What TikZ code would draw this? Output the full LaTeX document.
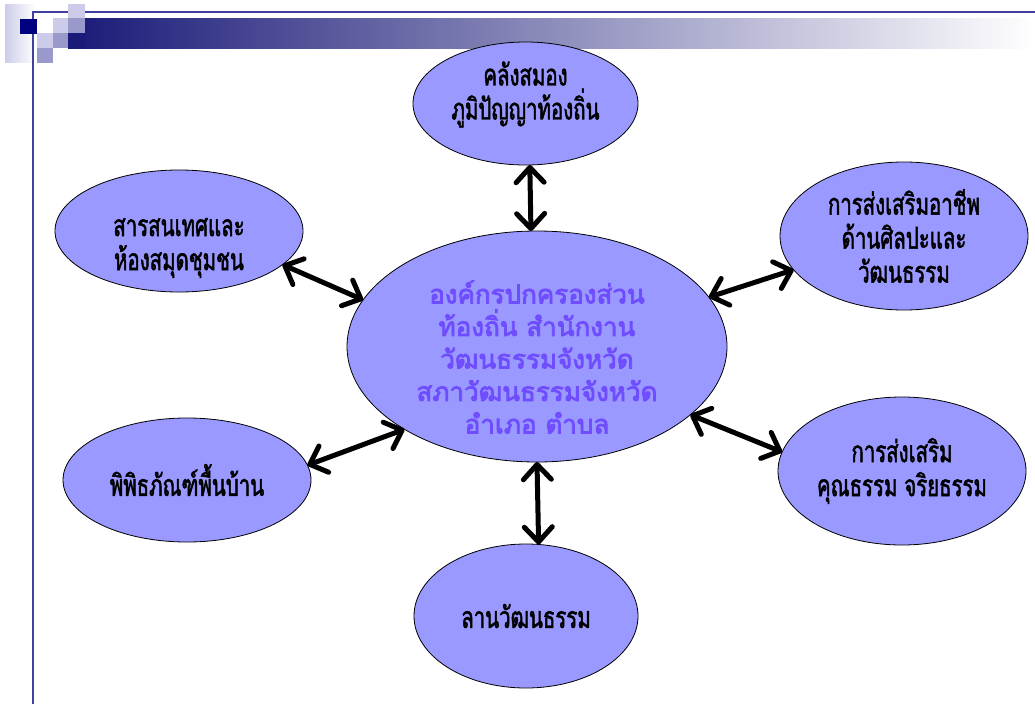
\documentclass[tikz,border=0pt]{standalone}
\usepackage{fontspec}
\usepackage{xcolor}
\usepackage{tikz}
\usetikzlibrary{positioning,shapes,arrows.meta}
\newfontfamily\thaifont[Script=Thai,FakeBold=3]{Loma}
\newfontfamily\thaicond[Script=Thai,FakeStretch=0.68,FakeBold=1.6]{Loma}
\definecolor{bubblefill}{RGB}{153,153,255}
\definecolor{hubtext}{RGB}{112,76,255}
\definecolor{framenavy}{RGB}{64,64,160}
\definecolor{deepnavy}{RGB}{0,0,128}
\definecolor{barnavy}{RGB}{26,26,120}
\definecolor{barmid}{RGB}{165,165,195}
\definecolor{lightsq}{RGB}{204,204,234}
\definecolor{midsq}{RGB}{153,153,204}
\tikzstyle{bubble}=[ellipse, draw=black, line width=0.8pt, fill=bubblefill, inner xsep=0pt, inner ysep=-20pt, outer sep=0pt, align=center, text=black, font=\thaicond\fontsize{30}{34}\selectfont]
\tikzstyle{hubbubble}=[bubble, text=hubtext, font=\thaifont\fontsize{26}{32.5}\selectfont]
\tikzstyle{dblarrow}=[{Straight Barb[length=15pt,width=28pt,round]}-{Straight Barb[length=15pt,width=28pt,round]}, line width=5pt, line cap=round]

\begin{document}
\begin{tikzpicture}[x=1pt, y=-1pt]
        \useasboundingbox (0,0) rectangle (1035,704);
        % slide decoration
        \shade[left color=lightsq, right color=white] (5,4) rectangle (35,62);
        \shade[left color=barnavy, middle color=barmid, right color=white] (68,18) rectangle (1035,48);
        \draw[framenavy, line width=1.5pt] (33,704) -- (33,12) -- (1035,12);
        \fill[deepnavy] (20,19) rectangle (37,34);
        \fill[lightsq] (37,33) rectangle (53,48);
        \fill[midsq] (37,48) rectangle (53,63);
        \fill[lightsq] (53,18) rectangle (68,33);
        \fill[midsq] (53,33) rectangle (68,48);
        \fill[lightsq] (68,4) rectangle (85,18);
        \fill[midsq] (68,18) rectangle (85,33);
        \fill[barnavy] (68,33) rectangle (85,48);

        \node[hubbubble, minimum width=380, minimum height=231] (hub) at (537,346.5) {\rule{0pt}{44pt}องค์กรปกครองส่วน\\ท้องถิ่น สำนักงาน\\วัฒนธรรมจังหวัด\\สภาวัฒนธรรมจังหวัด\\อำเภอ ตำบล};
        \node[bubble, minimum width=225, minimum height=123] (wisdom) at (525.5,103.5) {คลังสมอง\\ภูมิปัญญาท้องถิ่น\rule[-26pt]{0pt}{0pt}};
        \node[bubble, minimum width=248, minimum height=122] (library) at (179,231) {\rule{0pt}{52pt}สารสนเทศและ\\ห้องสมุดชุมชน};
        \node[bubble, minimum width=248, minimum height=148] (career) at (904,236) {การส่งเสริมอาชีพ\\ด้านศิลปะและ\\วัฒนธรรม};
        \node[bubble, minimum width=248, minimum height=124] (museum) at (187,480) {พิพิธภัณฑ์พื้นบ้าน};
        \node[bubble, minimum width=248, minimum height=148] (virtue) at (902,471) {การส่งเสริม\\คุณธรรม จริยธรรม};
        \node[bubble, minimum width=224, minimum height=144] (yard) at (526,616) {ลานวัฒนธรรม};

        \draw[dblarrow] (wisdom.-86) -- (hub.93);
        \draw[dblarrow] (library.-18) -- (hub.165);
        \draw[dblarrow] (career.197) -- (hub.16);
        \draw[dblarrow] (museum.7) -- (hub.212);
        \draw[dblarrow] (virtue.171) -- (hub.-24);
        \draw[dblarrow] (yard.80) -- (hub.-90);
    \end{tikzpicture}
\end{document}
